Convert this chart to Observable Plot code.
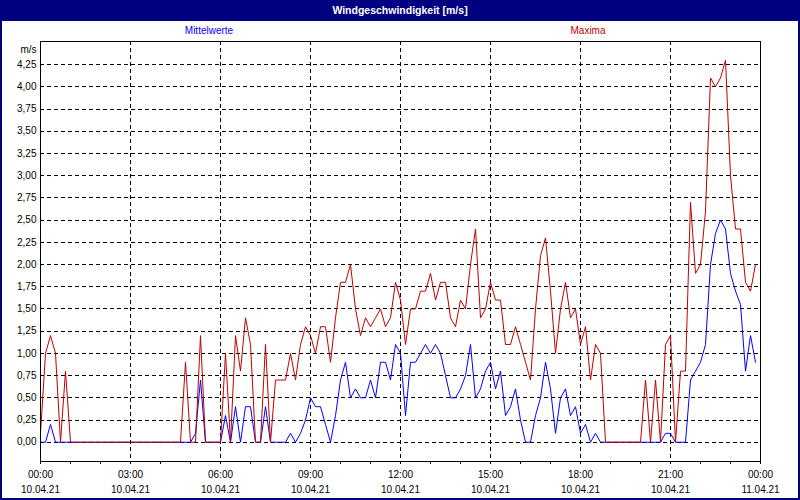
<!DOCTYPE html>
<html>
<head>
<meta charset="utf-8">
<script src="https://cdn.jsdelivr.net/npm/d3@7"></script>
<script src="https://cdn.jsdelivr.net/npm/@observablehq/plot@0.6"></script>
<style>
html, body { margin: 0; padding: 0; background: #fff; }
#wrap { position: relative; width: 800px; height: 500px; overflow: hidden; background: #fff; font-family: "Liberation Sans", Arial, sans-serif; }
#title { position: absolute; left: 0; top: 0; width: 800px; height: 21px; background: #000080; color: #fff; font-weight: bold; font-size: 10.5px; line-height: 20px; text-align: center; }
.leg { position: absolute; top: 25px; font-size: 10px; line-height: 12px; transform: translateX(-50%); white-space: nowrap; }
#chart { position: absolute; left: 0; top: 21px; }
#border { position: absolute; left: 0; top: 0; width: 800px; height: 500px; box-sizing: border-box; border: 2px solid #000080; border-top: none; pointer-events: none; }
</style>
</head>
<body>
<div id="wrap">
  <div id="title">Windgeschwindigkeit [m/s]</div>
  <div id="chart"></div>
  <div class="leg" id="legMean" style="left:209px;color:#0000ff">Mittelwerte</div>
  <div class="leg" id="legMax" style="left:588px;color:#c00000">Maxima</div>
  <div id="border"></div>
</div>
<script>
// 10-minute samples, 10.04.21 00:00 ... 23:50
const maxima = [
  0.1, 1.0, 1.2, 1.0, 0, 0.8, 0,
  0, 0, 0, 0, 0, 0, 0, 0, 0, 0, 0, 0, 0, 0, 0, 0, 0, 0, 0, 0, 0,
  0, 0.9, 0, 0, 1.2, 0, 0, 0, 0,
  1.0, 0, 1.2, 0.8, 1.4, 1.1, 0, 0, 1.1, 0,
  0.7, 0.7, 0.7, 1.0, 0.7, 1.1, 1.3, 1.2, 1.0, 1.3,
  1.3, 0.9, 1.4, 1.8, 1.8, 2.0, 1.5, 1.2, 1.4, 1.3,
  1.4, 1.5, 1.3, 1.4, 1.8, 1.6, 1.1, 1.5, 1.5, 1.7,
  1.7, 1.9, 1.6, 1.8, 1.8, 1.4, 1.3, 1.6, 1.5, 2.0,
  2.4, 1.4, 1.5, 1.8, 1.6, 1.6, 1.1, 1.1, 1.3, 1.1,
  0.9, 0.7, 1.5, 2.1, 2.3, 1.7, 1.0, 1.5, 1.8, 1.4,
  1.5, 1.1, 1.3, 0.7, 1.1, 1.0, 0, 0, 0, 0,
  0, 0, 0, 0, 0.7, 0, 0.7, 0, 1.1, 1.2,
  0, 0.8, 0.8, 2.7, 1.9, 2.0, 2.6, 4.1, 4.0, 4.1,
  4.3, 3.0, 2.4, 2.4, 1.8, 1.7, 2.0
];
const mittelwerte = [
  0, 0, 0.2, 0, 0, 0, 0,
  0, 0, 0, 0, 0, 0, 0, 0, 0, 0, 0, 0, 0, 0, 0, 0, 0, 0, 0, 0, 0,
  0, 0, 0, 0.1, 0.7, 0, 0, 0, 0,
  0.3, 0, 0.4, 0, 0.4, 0.4, 0, 0, 0.4, 0,
  0, 0, 0, 0.1, 0, 0.1, 0.25, 0.5, 0.4, 0.4,
  0.2, 0, 0.3, 0.7, 0.9, 0.5, 0.6, 0.5, 0.5, 0.7,
  0.5, 0.9, 0.9, 0.7, 1.1, 1.0, 0.3, 0.9, 0.9, 1.0,
  1.1, 1.0, 1.1, 1.0, 0.75, 0.5, 0.5, 0.6, 0.75, 1.1,
  0.5, 0.6, 0.8, 0.9, 0.6, 0.8, 0.3, 0.4, 0.6, 0.25,
  0, 0, 0.3, 0.5, 0.9, 0.6, 0.1, 0.5, 0.6, 0.3,
  0.4, 0.1, 0.2, 0, 0.1, 0, 0, 0, 0, 0,
  0, 0, 0, 0, 0, 0, 0, 0, 0.1, 0.1,
  0, 0, 0, 0.7, 0.8, 0.9, 1.1, 2.0, 2.35, 2.5,
  2.4, 1.9, 1.7, 1.55, 0.8, 1.2, 0.9
];
const stepMinutes = 10;

const yTicks = [0, 0.25, 0.5, 0.75, 1, 1.25, 1.5, 1.75, 2, 2.25, 2.5, 2.75, 3, 3.25, 3.5, 3.75, 4, 4.25];
const yTickLabels = ["0,00","0,25","0,50","0,75","1,00","1,25","1,50","1,75","2,00","2,25","2,50","2,75","3,00","3,25","3,50","3,75","4,00","4,25"];
const xTickHours = [0, 3, 6, 9, 12, 15, 18, 21, 24];
const timeLabels = ["00:00","03:00","06:00","09:00","12:00","15:00","18:00","21:00","00:00"];
const dateLabels = ["10.04.21","10.04.21","10.04.21","10.04.21","10.04.21","10.04.21","10.04.21","10.04.21","11.04.21"];
const gridHours = [3, 6, 9, 12, 15, 18, 21];
const minorHours = [0,1,2,3,4,5,6,7,8,9,10,11,12,13,14,15,16,17,18,19,20,21,22,23,24];

const meanData = mittelwerte.map((v, i) => ({t: i * stepMinutes / 60, v}));
const maxData = maxima.map((v, i) => ({t: i * stepMinutes / 60, v}));

const chart = Plot.plot({
  width: 800,
  height: 479,
  marginLeft: 40,
  marginRight: 40,
  marginTop: 20,
  marginBottom: 39,
  style: {fontFamily: "'Liberation Sans', Arial, sans-serif", fontSize: "10px", color: "#000", background: "transparent", overflow: "visible"},
  x: {domain: [0, 24], label: null},
  y: {domain: [-0.217, 4.51], label: null},
  marks: [
    Plot.ruleY(yTicks, {stroke: "#000", strokeDasharray: "4,3", strokeWidth: 1, shapeRendering: "crispEdges"}),
    Plot.ruleX(gridHours, {stroke: "#000", strokeDasharray: "4,3", strokeWidth: 1, shapeRendering: "crispEdges"}),
    Plot.line(meanData, {x: "t", y: "v", stroke: "#0000ff", strokeWidth: 1}),
    Plot.line(maxData, {x: "t", y: "v", stroke: "#c00000", strokeWidth: 1}),
    Plot.frame({stroke: "#000", shapeRendering: "crispEdges"}),
    Plot.axisY({ticks: yTicks, tickSize: 0, tickPadding: 4, label: null, tickFormat: d => yTickLabels[yTicks.indexOf(d)]}),
    Plot.axisX({ticks: minorHours, tickSize: 3, label: null, tickFormat: () => ""}),
    Plot.axisX({ticks: xTickHours, tickSize: 0, tickPadding: 9.5, label: null, tickFormat: d => timeLabels[xTickHours.indexOf(d)]}),
    Plot.axisX({ticks: xTickHours, tickSize: 0, tickPadding: 24, label: null, tickFormat: d => dateLabels[xTickHours.indexOf(d)]}),
    Plot.text(["m/s"], {frameAnchor: "top-left", dx: -4, dy: 4, textAnchor: "end"})
  ]
});
document.getElementById("chart").appendChild(chart);
</script>
</body>
</html>
